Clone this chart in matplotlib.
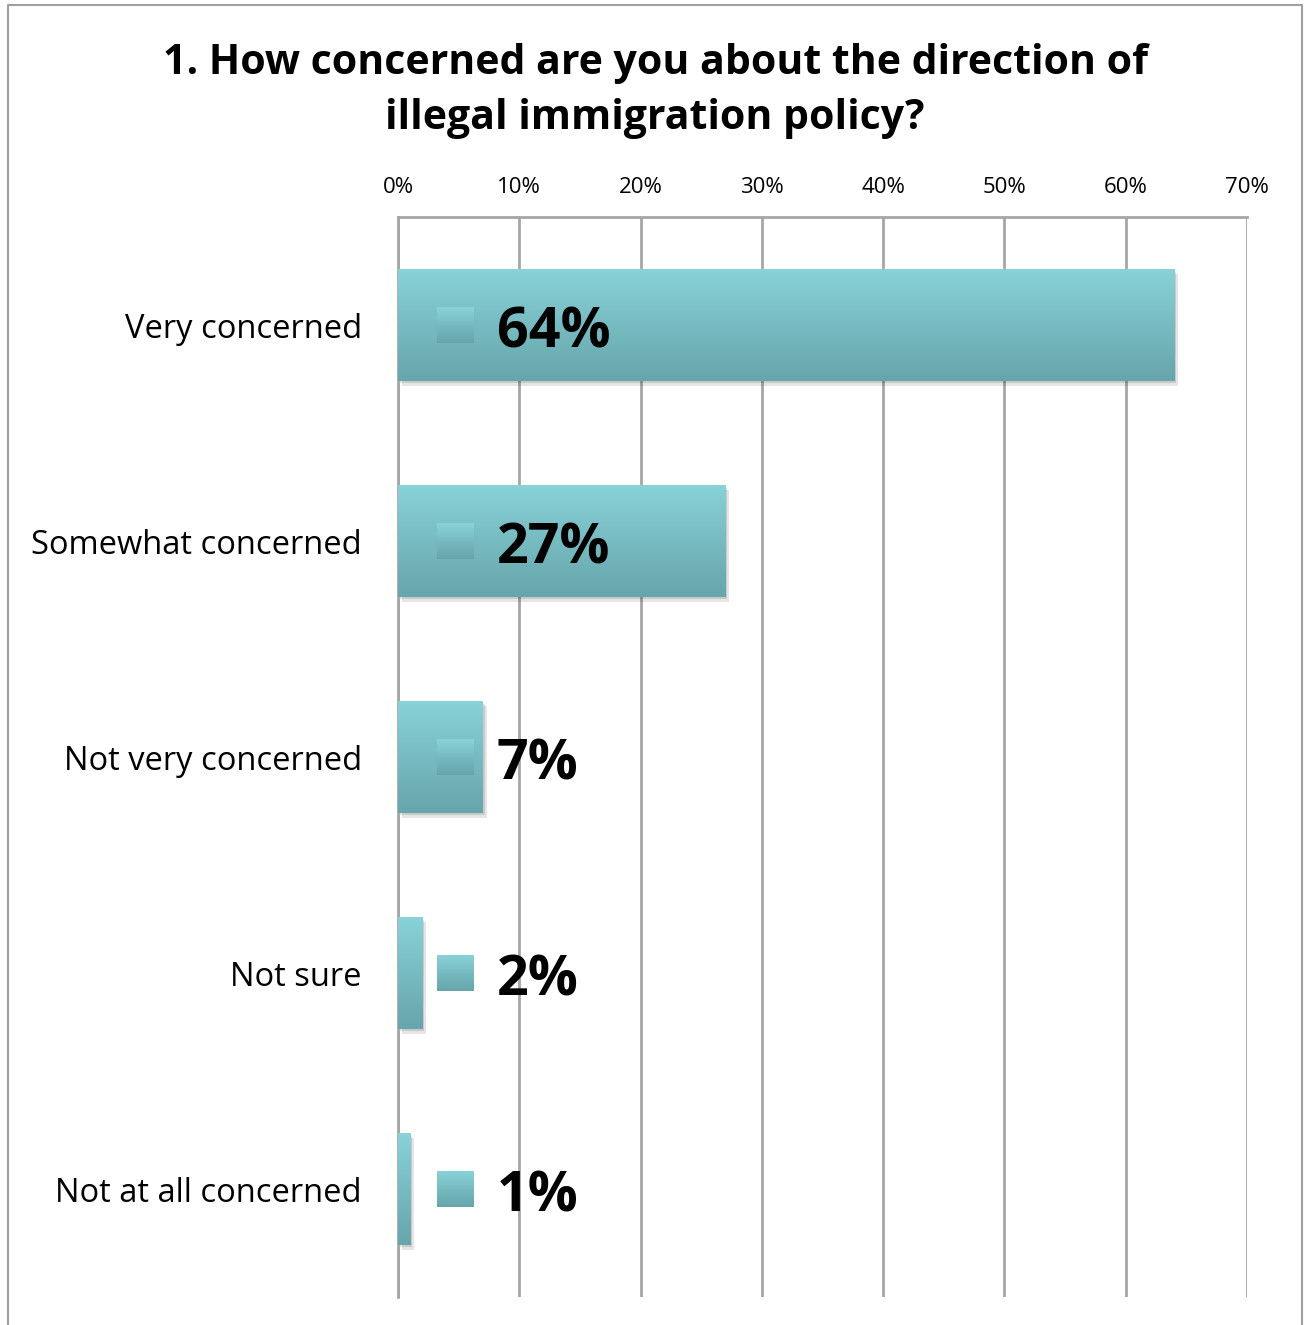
import numpy as np
import matplotlib.pyplot as plt
import matplotlib.transforms as mtransforms
from matplotlib.patches import Rectangle
from matplotlib.colors import LinearSegmentedColormap

plt.rcParams['font.family'] = ['Open Sans', 'DejaVu Sans']

# data
categories = ['Very concerned', 'Somewhat concerned', 'Not very concerned',
              'Not sure', 'Not at all concerned']
values = [64, 27, 7, 2, 1]
tick_values = [0, 10, 20, 30, 40, 50, 60, 70]
tick_labels = ['0%', '10%', '20%', '30%', '40%', '50%', '60%', '70%']
title = '1. How concerned are you about the direction of\nillegal immigration policy?'

grid_color = '#a6a6a6'
teal = LinearSegmentedColormap.from_list('teal', ['#88d2d8', '#66a5ab'])
bar_h = 0.514

fig = plt.figure(figsize=(13.05, 13.25), dpi=100)

# outer frame (bottom edge is cut off in the original)
fig.add_artist(plt.Line2D([8/1305, 8/1305, 1302/1305, 1302/1305],
                          [0, 1 - 5/1325, 1 - 5/1325, 0],
                          transform=fig.transFigure, color='#a0a0a0', lw=1.5))

fig.text(0.502, 1 - 91/1325, title, ha='center', va='center', fontsize=29.5,
         fontweight='bold', linespacing=1.42)

ax = fig.add_axes([398/1305, 1 - 1297/1325, (1247 - 398)/1305, (1297 - 217)/1325])

pos = np.arange(len(categories))
bars = ax.barh(pos, values, height=bar_h, color='none', zorder=3)

grad = np.linspace(0, 1, 256).reshape(-1, 1)
for b in bars:
    x0, y0 = b.get_x(), b.get_y()
    w, h = b.get_width(), b.get_height()
    # soft drop shadow
    for k, a in [(1.0, 0.10), (0.5, 0.12)]:
        tr = ax.transData + mtransforms.ScaledTranslation(k*4/100, -k*5/100, fig.dpi_scale_trans)
        ax.add_patch(Rectangle((x0, y0), w, h, transform=tr, color='black',
                               alpha=a, lw=0, zorder=2))
    im = ax.imshow(grad, cmap=teal, aspect='auto', origin='upper',
                   extent=(x0, x0 + w, y0 + h, y0), zorder=3)
    im.set_clip_path(b)

# legend key + value label inside the plot
for i, v in enumerate(values):
    ax.imshow(grad, cmap=teal, aspect='auto', origin='upper',
              extent=(3.2, 6.2, i + 0.083, i - 0.083), zorder=4)
    ax.text(8.15, i + 0.035, f'{v}%', ha='left', va='center', fontsize=40,
            fontweight='bold', zorder=5)

ax.set_xlim(0, 70)
ax.set_ylim(len(categories) - 0.5, -0.5)
ax.set_xticks(tick_values)
ax.set_xticklabels(tick_labels)
ax.set_yticks(pos)
ax.set_yticklabels(categories)
ax.xaxis.tick_top()
ax.tick_params(axis='x', length=0, labelsize=16, pad=14)
ax.tick_params(axis='y', length=0, labelsize=23.5, pad=26)
ax.grid(axis='x', color=grid_color, lw=2, zorder=0)
ax.set_axisbelow(True)
for s in ['right', 'bottom']:
    ax.spines[s].set_visible(False)
for s in ['top', 'left']:
    ax.spines[s].set_color(grid_color)
    ax.spines[s].set_linewidth(2)

fig.savefig('out.png', dpi=100)
